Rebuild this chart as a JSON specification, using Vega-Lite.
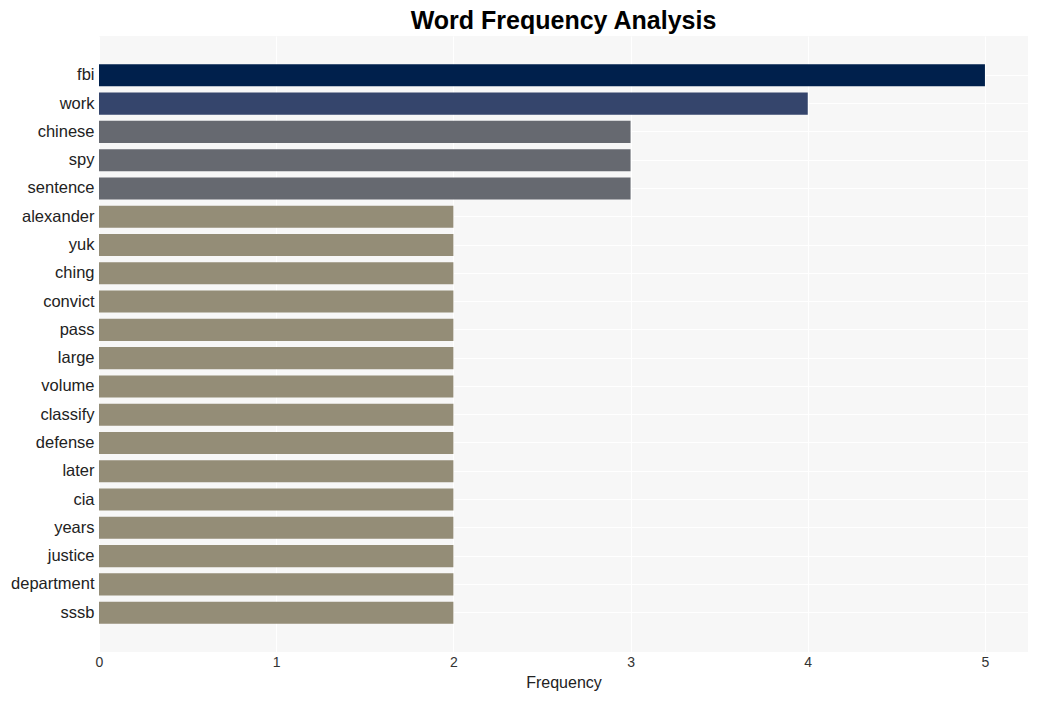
{
  "$schema": "https://vega.github.io/schema/vega-lite/v6.json",
  "autosize": "none",
  "width": 929,
  "height": 616,
  "padding": {"left": 99, "top": 36, "right": 11, "bottom": 49},
  "background": "white",
  "title": {
    "text": "Word Frequency Analysis",
    "font": "Liberation Sans",
    "fontSize": 25,
    "fontWeight": "bold",
    "color": "#000000",
    "anchor": "middle",
    "offset": 2
  },
  "config": {
    "view": {"fill": "#f7f7f7", "stroke": null},
    "axis": {"domain": false, "ticks": false, "gridColor": "#ffffff", "gridWidth": 1, "gridOpacity": 1}
  },
  "data": {
    "values": [
      {"word": "fbi", "frequency": 5},
      {"word": "work", "frequency": 4},
      {"word": "chinese", "frequency": 3},
      {"word": "spy", "frequency": 3},
      {"word": "sentence", "frequency": 3},
      {"word": "alexander", "frequency": 2},
      {"word": "yuk", "frequency": 2},
      {"word": "ching", "frequency": 2},
      {"word": "convict", "frequency": 2},
      {"word": "pass", "frequency": 2},
      {"word": "large", "frequency": 2},
      {"word": "volume", "frequency": 2},
      {"word": "classify", "frequency": 2},
      {"word": "defense", "frequency": 2},
      {"word": "later", "frequency": 2},
      {"word": "cia", "frequency": 2},
      {"word": "years", "frequency": 2},
      {"word": "justice", "frequency": 2},
      {"word": "department", "frequency": 2},
      {"word": "sssb", "frequency": 2}
    ]
  },
  "mark": {"type": "bar"},
  "encoding": {
    "y": {
      "field": "word",
      "type": "nominal",
      "sort": null,
      "scale": {"paddingInner": 0.22, "paddingOuter": 1.0},
      "axis": {
        "title": null,
        "grid": true,
        "bandPosition": 0.5,
        "labelFont": "Liberation Sans",
        "labelFontSize": 16.5,
        "labelColor": "#222222",
        "labelPadding": 5
      }
    },
    "x": {
      "field": "frequency",
      "type": "quantitative",
      "scale": {"domain": [0, 5.243], "nice": false},
      "axis": {
        "title": "Frequency",
        "values": [0, 1, 2, 3, 4, 5],
        "format": "d",
        "grid": true,
        "labelFlush": false,
        "labelFont": "Liberation Sans",
        "labelFontSize": 14,
        "labelColor": "#333333",
        "labelPadding": 3,
        "titleFont": "Liberation Sans",
        "titleFontSize": 16,
        "titleFontWeight": "normal",
        "titleColor": "#222222",
        "titlePadding": 5
      }
    },
    "color": {
      "field": "frequency",
      "type": "ordinal",
      "scale": {"domain": [2, 3, 4, 5], "range": ["#948d77", "#666970", "#35456c", "#00204c"]},
      "legend": null
    }
  }
}
